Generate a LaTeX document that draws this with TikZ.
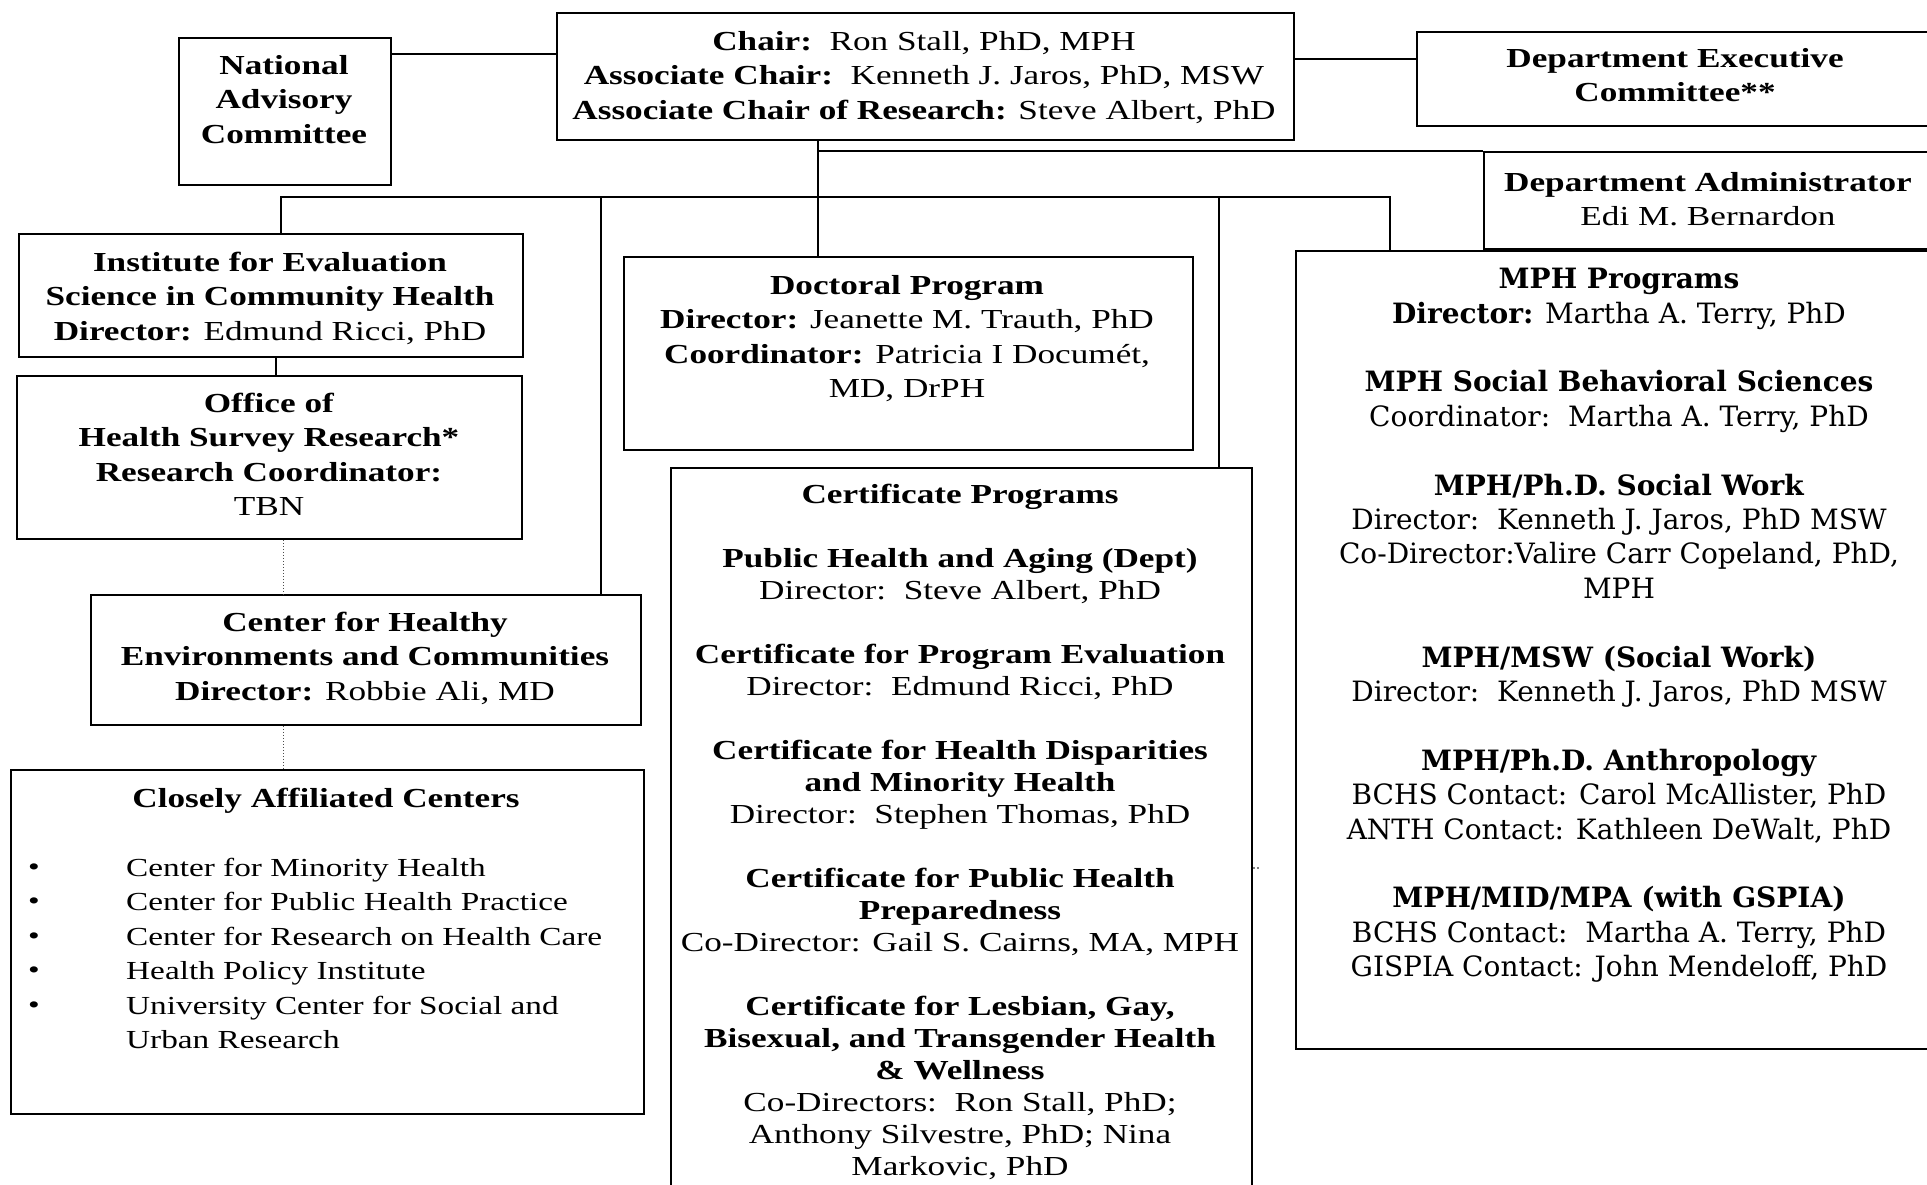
\documentclass[tikz,border=0pt]{standalone}
\usepackage{fontspec}
\setmainfont{Liberation Serif}[FakeStretch=1.28]
\newfontfamily\mphfont{DejaVu Serif}
\newcommand\fsA{\fontsize{27.5}{34.4}\selectfont}
\newcommand\fsL{\fontsize{26}{34.4}\selectfont}
\newcommand\fsC{\fontsize{27.5}{32}\selectfont}
\newcommand\fsM{\mphfont\fontsize{28}{34.4}\selectfont}
\begin{document}
\begin{tikzpicture}[x=1pt,y=-1pt,
  box/.style={draw, line width=1.8pt, inner sep=0pt, anchor=north west},
  txt/.style={inner sep=0pt, anchor=north, align=center, font=\fsA},
  conn/.style={line width=1.4pt},
  dotc/.style={line width=1pt, dotted, black!70}]
\useasboundingbox (0,0) rectangle (1927,1185);
\fill[white] (0,0) rectangle (1927,1185);

% boxes
\node[box, minimum width=212, minimum height=147] (nac) at (178,37) {};
\node[box, minimum width=737, minimum height=127] (chair) at (556,12) {};
\node[box, minimum width=520, minimum height=94] (dec) at (1416,31) {};
\node[box, minimum width=453, minimum height=97] (da) at (1483,151) {};
\node[box, minimum width=504, minimum height=123] (inst) at (18,233) {};
\node[box, minimum width=505, minimum height=163] (office) at (16,375) {};
\node[box, minimum width=550, minimum height=130] (chec) at (90,594) {};
\node[box, minimum width=633, minimum height=344] (close) at (10,769) {};
\node[box, minimum width=569, minimum height=193] (doc) at (623,256) {};
\node[box, minimum width=581, minimum height=740] (cert) at (670,467) {};
\node[box, minimum width=648, minimum height=798] (mph) at (1295,250) {};

% helper coordinates
\coordinate (yA) at (0,54);
\coordinate (yB) at (0,59);
\coordinate (bus) at (0,197);
\coordinate (xstem) at (818,0);
\coordinate (xa) at (281,0);
\coordinate (xb) at (601,0);
\coordinate (xd) at (1219,0);
\coordinate (xe) at (1390,0);
\coordinate (xio) at (276,0);
\coordinate (xdot) at (283,0);

% connectors
\draw[conn] (nac.east |- yA) -- (chair.west |- yA);
\draw[conn] (chair.east |- yB) -- (dec.west |- yB);
\draw[conn] (chair.south -| xstem) -- (doc.north -| xstem);
\draw[conn] (xstem |- da.north west) -- (da.north west);
\draw[conn] (inst.north -| xa) -- (xa |- bus) -- (xe |- bus) -- (mph.north -| xe);
\draw[conn] (xb |- bus) -- (chec.north -| xb);
\draw[conn] (xd |- bus) -- (cert.north -| xd);
\draw[conn] (inst.south -| xio) -- (office.north -| xio);
\draw[dotc] (office.south -| xdot) -- (chec.north -| xdot);
\draw[dotc] (chec.south -| xdot) -- (close.north -| xdot);
\fill (1254,868) circle (0.8) (1258,868) circle (0.8);

% texts
\node[txt] (nac-t) at (284,55) {\textbf{National}\\ \textbf{Advisory}\\ \textbf{Committee}};
\node[txt] (chair-t) at (924,31) {\textbf{Chair:}\ \ Ron Stall, PhD, MPH\\
  \textbf{Associate Chair:}\ \ Kenneth J. Jaros, PhD, MSW\\
  \textbf{Associate Chair of Research:} Steve Albert, PhD};
\node[txt] (dec-t) at (1675,48) {\textbf{Department Executive}\\ \textbf{Committee**}};
\node[txt] (da-t) at (1708,172) {\textbf{Department Administrator}\\ Edi M. Bernardon};
\node[txt] (inst-t) at (270,252) {\textbf{Institute for Evaluation}\\
  \textbf{Science in Community Health}\\ \textbf{Director:} Edmund Ricci, PhD};
\node[txt] (office-t) at (269,393) {\textbf{Office of}\\ \textbf{Health Survey Research*}\\
  \textbf{Research Coordinator:}\\ TBN};
\node[txt] (chec-t) at (365,612) {\textbf{Center for Healthy}\\
  \textbf{Environments and Communities}\\ \textbf{Director:} Robbie Ali, MD};
\node[txt] (close-t) at (326,788) {\textbf{Closely Affiliated Centers}};
\node[inner sep=0pt, anchor=north, align=center, font=\fsL] (close-b) at (34,858)
  {\vphantom{C}\textbullet\\ \textbullet\\ \textbullet\\ \textbullet\\ \textbullet};
\node[inner sep=0pt, anchor=north west, align=left, font=\fsL] (close-l) at (126,858)
  {\vphantom{C}Center for Minority Health\\ Center for Public Health Practice\\
   Center for Research on Health Care\\ Health Policy Institute\\
   University Center for Social and\\ Urban Research};
\node[txt] (doc-t) at (907,275) {\textbf{Doctoral Program}\\
  \textbf{Director:} Jeanette M. Trauth, PhD\\
  \textbf{Coordinator:} Patricia I Documét,\\ MD, DrPH};
\node[txt, font=\fsC] (cert-t) at (960,484) {\textbf{Certificate Programs}\\[32pt]
  \textbf{Public Health and Aging (Dept)}\\ Director:\ \ Steve Albert, PhD\\[32pt]
  \textbf{Certificate for Program Evaluation}\\ Director:\ \ Edmund Ricci, PhD\\[32pt]
  \textbf{Certificate for Health Disparities}\\ \textbf{and Minority Health}\\
  Director:\ \ Stephen Thomas, PhD\\[32pt]
  \textbf{Certificate for Public Health}\\ \textbf{Preparedness}\\
  Co-Director: Gail S. Cairns, MA, MPH\\[32pt]
  \textbf{Certificate for Lesbian, Gay,}\\ \textbf{Bisexual, and Transgender Health}\\
  \textbf{\& Wellness}\\ Co-Directors:\ \ Ron Stall, PhD;\\
  Anthony Silvestre, PhD; Nina\\ Markovic, PhD};
\node[txt, font=\fsM] (mph-t) at (1619,268) {\textbf{MPH Programs}\\
  \textbf{Director:} Martha A. Terry, PhD\\[34.4pt]
  \textbf{MPH Social Behavioral Sciences}\\ Coordinator:\ \ Martha A. Terry, PhD\\[34.4pt]
  \textbf{MPH/Ph.D. Social Work}\\ Director:\ \ Kenneth J. Jaros, PhD MSW\\
  Co-Director:Valire Carr Copeland, PhD,\\ MPH\\[34.4pt]
  \textbf{MPH/MSW (Social Work)}\\ Director:\ \ Kenneth J. Jaros, PhD MSW\\[34.4pt]
  \textbf{MPH/Ph.D. Anthropology}\\ BCHS Contact: Carol McAllister, PhD\\
  ANTH Contact: Kathleen DeWalt, PhD\\[34.4pt]
  \textbf{MPH/MID/MPA (with GSPIA)}\\ BCHS Contact:\ \ Martha A. Terry, PhD\\
  GISPIA Contact: John Mendeloff, PhD};
\end{tikzpicture}
\end{document}
